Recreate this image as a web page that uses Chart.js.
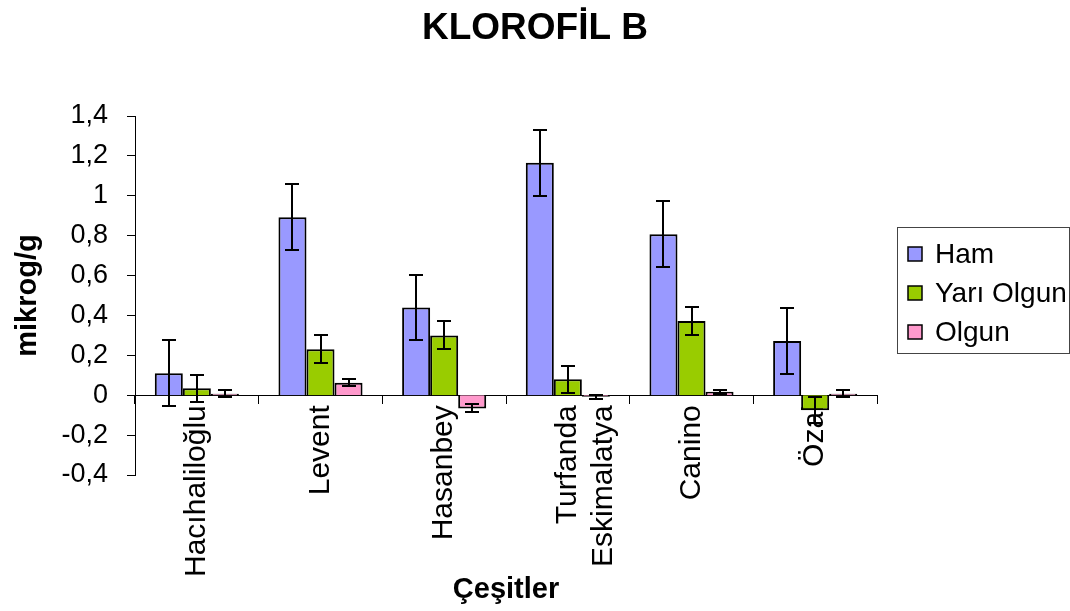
<!DOCTYPE html>
<html>
<head>
<meta charset="utf-8">
<title>KLOROFİL B</title>
<script src="https://cdn.jsdelivr.net/npm/chart.js@4/dist/chart.umd.min.js"></script>
<style>
  html, body { margin: 0; padding: 0; background: #fff; }
  #wrap { width: 1070px; height: 611px; }
</style>
</head>
<body>
<div id="wrap"><canvas id="chart" width="1070" height="611"></canvas></div>
<script>
const baslik = 'KLOROFİL B';
const xBaslik = 'Çeşitler';
const cesitler = ['Hacıhaliloğlu', 'Levent', 'Hasanbey', ['Turfanda', 'Eskimalatya'], 'Canino', 'Özal'];

const ham = [0.11, 0.892, 0.44, 1.165, 0.807, 0.272];
const hamErr = [0.165, 0.165, 0.165, 0.165, 0.165, 0.165];

const yariOlgun = [0.035, 0.23, 0.30, 0.08, 0.372, -0.075];
const yariOlgunErr = [0.068, 0.07, 0.07, 0.068, 0.07, 0.065];

const olgun = [0.008, 0.063, -0.066, -0.008, 0.018, 0.007];
const olgunErr = [0.018, 0.018, 0.02, 0.01, 0.01, 0.018];

const yTickLabels = ['-0,4', '-0,2', '0', '0,2', '0,4', '0,6', '0,8', '1', '1,2', '1,4'];

const FONT = '"Liberation Sans", Arial, sans-serif';
Chart.defaults.color = '#000';
Chart.defaults.font.family = FONT;

// başlıklar: grafik başlığı tüm genişliğe, x başlığı çizim alanına göre ortalanır
const titles = {
    id: 'titles',
    afterDraw(chart) {
        const ctx = chart.ctx;
        const area = chart.chartArea;
        ctx.save();
        ctx.fillStyle = '#000';
        ctx.textAlign = 'center';
        ctx.textBaseline = 'middle';
        ctx.font = 'bold 37px ' + FONT;
        ctx.fillText(baslik, chart.width / 2, 29);
        ctx.font = 'bold 29px ' + FONT;
        ctx.fillText(xBaslik, (area.left + area.right) / 2, 590);
        ctx.restore();
    }
};

// hata çubukları
const errorBars = {
    id: 'errorBars',
    afterDatasetsDraw(chart) {
        const ctx = chart.ctx;
        const y = chart.scales.y;
        ctx.save();
        ctx.strokeStyle = '#000';
        ctx.lineWidth = 2;
        chart.data.datasets.forEach((ds, i) => {
            const meta = chart.getDatasetMeta(i);
            meta.data.forEach((bar, j) => {
                const v = ds.data[j];
                const e = ds.errors[j];
                const top = Math.round(y.getPixelForValue(v + e));
                const bottom = Math.round(y.getPixelForValue(v - e));
                const x = Math.round(bar.x);
                ctx.beginPath();
                ctx.moveTo(x, top);
                ctx.lineTo(x, bottom);
                ctx.moveTo(x - 7, top);
                ctx.lineTo(x + 7, top);
                ctx.moveTo(x - 7, bottom);
                ctx.lineTo(x + 7, bottom);
                ctx.stroke();
            });
        });
        ctx.restore();
    }
};

// lejant kutusu
const boxLegend = {
    id: 'boxLegend',
    afterDraw(chart) {
        const ctx = chart.ctx;
        ctx.save();
        ctx.strokeStyle = '#444';
        ctx.lineWidth = 1;
        ctx.strokeRect(897.5, 227.5, 172, 126);
        ctx.font = '28px ' + FONT;
        ctx.textBaseline = 'middle';
        chart.data.datasets.forEach((ds, i) => {
            const cy = 254 + i * 39;
            ctx.fillStyle = ds.backgroundColor;
            ctx.fillRect(908, cy - 7, 14, 14);
            ctx.strokeStyle = '#000';
            ctx.lineWidth = 1.5;
            ctx.strokeRect(908, cy - 7, 14, 14);
            ctx.fillStyle = '#000';
            ctx.fillText(ds.label, 935, cy + 1);
        });
        ctx.restore();
    }
};

const ctx = document.getElementById('chart').getContext('2d');

const chart = new Chart(ctx, {
    type: 'bar',
    data: {
        labels: cesitler,
        datasets: [{
            label: 'Ham',
            data: ham,
            errors: hamErr,
            backgroundColor: '#9999FF',
            borderColor: '#000',
            borderWidth: 2
        }, {
            label: 'Yarı Olgun',
            data: yariOlgun,
            errors: yariOlgunErr,
            backgroundColor: '#99CC00',
            borderColor: '#000',
            borderWidth: 2
        }, {
            label: 'Olgun',
            data: olgun,
            errors: olgunErr,
            backgroundColor: '#FF99CC',
            borderColor: '#000',
            borderWidth: 2
        }]
    },
    options: {
        responsive: false,
        animation: false,
        categoryPercentage: 0.68,
        barPercentage: 1.0,
        layout: {
            padding: { left: 0, right: 193, top: 116, bottom: 136 }
        },
        plugins: {
            legend: { display: false },
            tooltip: { enabled: false },
            title: { display: false }
        },
        scales: {
            x: {
                position: { y: 0 },
                grid: {
                    offset: true,
                    drawOnChartArea: false,
                    drawTicks: true,
                    tickLength: 8,
                    color: '#000'
                },
                border: { display: true, color: '#000', width: 1 },
                ticks: {
                    autoSkip: false,
                    maxRotation: 90,
                    minRotation: 90,
                    padding: 2,
                    font: { size: 30 }
                },
                title: { display: false }
            },
            y: {
                min: -0.4,
                max: 1.4,
                afterFit: (scale) => { scale.width = 135; },
                grid: {
                    drawOnChartArea: false,
                    drawTicks: true,
                    tickLength: 8,
                    color: '#000'
                },
                border: { display: true, color: '#000', width: 1 },
                ticks: {
                    stepSize: 0.2,
                    padding: 19,
                    font: { size: 27 },
                    callback: (value, index) => yTickLabels[index]
                },
                title: {
                    display: true,
                    text: 'mikrog/g',
                    font: { size: 29, weight: 'bold' },
                    padding: { top: 11, bottom: 0 }
                }
            }
        }
    },
    plugins: [errorBars, boxLegend, titles]
});
</script>
</body>
</html>
